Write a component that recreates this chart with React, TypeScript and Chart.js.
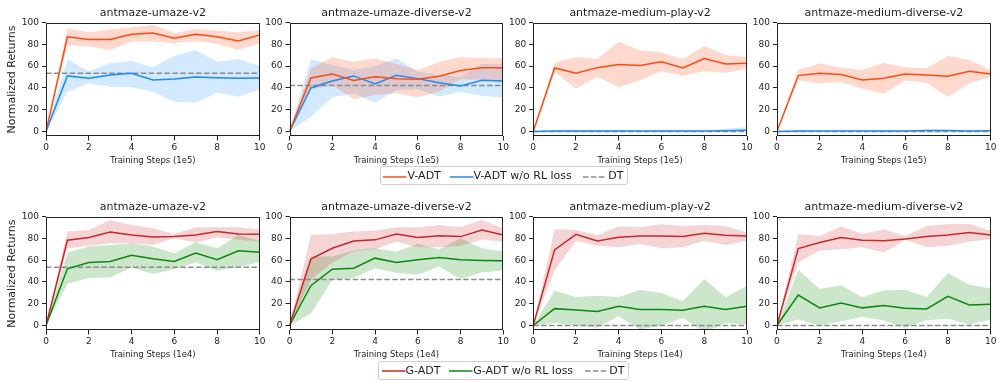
import React, { useEffect, useRef } from "react";
import { Chart, registerables } from "chart.js";

Chart.register(...registerables);

// ---------------- data ----------------
const steps = [0, 1, 2, 3, 4, 5, 6, 7, 8, 9, 10];
const xTicks = [0, 2, 4, 6, 8, 10];
const yTicks = [0, 20, 40, 60, 80, 100];

const envTitles = [
  "antmaze-umaze-v2",
  "antmaze-umaze-diverse-v2",
  "antmaze-medium-play-v2",
  "antmaze-medium-diverse-v2",
];
const dtScores = [53.5, 42.2, 0, 0];

// Row 1: V-ADT (x 1e5 steps)
const vUmaze = [0, 86.9, 84.4, 84.4, 89.3, 90.5, 85.6, 89.3, 86.9, 83.2, 88.7];
const vUmazeHi = [0, 94.8, 91.2, 93.6, 95.5, 97.9, 90.5, 94.2, 92.4, 91.2, 93];
const vUmazeLo = [0, 79.5, 78.3, 74.9, 82.6, 82.6, 81, 83.2, 80.7, 74.9, 81];
const vUmazeNoRl = [0, 51, 48.8, 51.9, 53.4, 47.3, 48.2, 50, 49.4, 48.8, 49.1];
const vUmazeNoRlHi = [0, 66.3, 55.3, 62.6, 64.8, 58.9, 69.4, 74.9, 64.1, 66.6, 60.2];
const vUmazeNoRlLo = [0, 36.2, 44.2, 41.1, 40.5, 36.5, 27.3, 26.4, 35.6, 31.9, 38.7];

const vUmazeDiv = [0, 49.1, 52.8, 46.7, 50.3, 48.5, 47.9, 50.6, 55.9, 58.6, 58.6];
const vUmazeDivHi = [0, 58, 68.1, 64.1, 66.9, 62, 56.5, 63.8, 68.1, 67.5, 67.2];
const vUmazeDivLo = [0, 38.7, 42.7, 29.5, 33.5, 35, 31.3, 36.5, 47.9, 47.3, 44.8];
const vUmazeDivNoRl = [0, 39.9, 46.3, 51, 43.6, 51.6, 48.5, 44.8, 41.7, 47, 46.3];
const vUmazeDivNoRlHi = [0, 66.3, 61.1, 56.5, 60.2, 66.9, 54.9, 51.9, 50.3, 62, 61.7];
const vUmazeDivNoRlLo = [0, 13.5, 31.3, 35, 26.4, 38.1, 38.7, 31.9, 36.5, 32.5, 31.3];

const vMedPlay = [0, 58.3, 53.4, 58.6, 61.4, 60.5, 64.1, 58.3, 66.9, 62, 62.6];
const vMedPlayHi = [0, 63.2, 68.1, 66.6, 82.3, 74.3, 72.7, 66.3, 78.6, 70.3, 68.1];
const vMedPlayLo = [0, 54.9, 39.3, 50.3, 40.5, 46.7, 55.6, 51, 55.3, 54, 57.4];
const vMedPlayNoRl = [0, 0.3, 0.3, 0.3, 0.3, 0.3, 0.3, 0.3, 0.3, 0.5, 1];
const vMedPlayNoRlHi = [0, 0.5, 0.5, 0.5, 0.5, 0.5, 0.5, 0.5, 0.7, 2.5, 3.8];
const vMedPlayNoRlLo = [0, 0, 0, 0, 0, 0, 0, 0, 0, 0, 0];

const vMedDiv = [0, 51.3, 53.4, 52.2, 47.3, 48.8, 52.8, 51.9, 50.6, 55.3, 52.8];
const vMedDivHi = [0, 56.5, 62.6, 58.6, 56.5, 63.2, 58.9, 58, 69.4, 65.7, 56.5];
const vMedDivLo = [0, 47.3, 44.2, 45.4, 39.3, 34.7, 46.7, 44.8, 31.9, 44.2, 50.3];
const vMedDivNoRl = [0, 0.3, 0.3, 0.3, 0.3, 0.3, 0.3, 0.8, 0.8, 0.3, 0.6];
const vMedDivNoRlHi = [0, 0.5, 0.5, 0.5, 0.5, 0.5, 0.8, 1.8, 1.8, 0.8, 1.2];
const vMedDivNoRlLo = [0, 0, 0, 0, 0, 0, 0, 0, 0, 0, 0];

// Row 2: G-ADT (x 1e4 steps)
const gUmaze = [0, 78.4, 80.8, 86, 83.2, 81.4, 81.7, 83.2, 86.3, 84.1, 83.8];
const gUmazeHi = [0, 86.3, 87.8, 97, 92.4, 89.3, 84.1, 90.2, 90.2, 90.2, 88.4];
const gUmazeLo = [0, 71, 73.2, 75.6, 75.6, 74.1, 80.2, 76.2, 81.1, 78.7, 77.1];
const gUmazeNoRl = [0, 52.1, 57.9, 58.8, 64.6, 61.3, 58.8, 66.5, 60.4, 68.6, 67.4];
const gUmazeNoRlHi = [0, 67.1, 72.6, 74.1, 75.6, 72.6, 66.5, 76.5, 71, 83.2, 77.7];
const gUmazeNoRlLo = [0, 38.4, 43.6, 44.2, 53.4, 47.3, 51.8, 57.9, 50.3, 53.7, 58.2];

const gUmazeDiv = [0, 61, 71, 77.7, 78.7, 84.1, 80.8, 82.6, 81.7, 87.8, 83.2];
const gUmazeDivHi = [0, 83.2, 84.1, 86.3, 87.2, 90.2, 90.2, 92.4, 90.2, 97, 89.3];
const gUmazeDivLo = [0, 42, 58, 68, 70, 77, 72, 72, 73, 79, 77];
const gUmazeDivNoRl = [0, 36.6, 51.8, 52.7, 61.9, 57.9, 60.4, 62.5, 60.4, 59.8, 59.5];
const gUmazeDivNoRlHi = [0, 63.4, 63.4, 68.9, 71, 68, 75, 70.1, 80.2, 71, 68];
const gUmazeDivNoRlLo = [0, 10.7, 42, 43.6, 52.7, 48.2, 46.6, 54.3, 42.7, 48.8, 50.6];

const gMedPlay = [0, 69.5, 83.8, 77.7, 81.1, 82.3, 82.3, 81.7, 84.8, 82.9, 82.3];
const gMedPlayHi = [0, 88.4, 87.8, 83.2, 90.9, 90.2, 93, 91.5, 92.4, 91.5, 85.4];
const gMedPlayLo = [0, 50.6, 78, 73.2, 72, 75, 71, 72, 78, 74.1, 78];
const gMedPlayNoRl = [0, 15.5, 14.3, 12.8, 17.7, 14.6, 14.6, 14, 17.7, 14.6, 17.7];
const gMedPlayNoRlHi = [0, 32, 26.2, 27.4, 26.2, 32.9, 29.9, 22.3, 42.7, 25.9, 36.6];
const gMedPlayNoRlLo = [0, 2.4, 0, -2.1, 8.5, -3.7, 0, 7, -6, 2.4, 0.9];

const gMedDiv = [0, 70.7, 76.2, 80.8, 78.4, 78, 79.6, 81.7, 83.2, 85.4, 83.2];
const gMedDivHi = [0, 84.1, 82.3, 90.9, 84.1, 88.4, 82.3, 91.5, 93.3, 93.3, 87.2];
const gMedDivLo = [0, 57.9, 68.9, 70.1, 72, 67.1, 78.7, 72, 73.2, 77.1, 79.3];
const gMedDivNoRl = [0, 28, 16.2, 20.7, 16.2, 18.3, 15.9, 15.2, 26.8, 18.9, 19.5];
const gMedDivNoRlHi = [0, 51.2, 33.5, 36.9, 25.9, 32.3, 32.9, 26.2, 48.2, 37.5, 34.1];
const gMedDivNoRlLo = [0, 5.5, 0, 4, 7.9, 4.6, -2, 4.9, 6.1, 1, 5.5];

const rowXLabels = ["Training Steps (1e5)", "Training Steps (1e4)"];
const rowSeriesNames = [
  ["V-ADT", "V-ADT w/o RL loss", "DT"],
  ["G-ADT", "G-ADT w/o RL loss", "DT"],
];
const yLabel = "Normalized Returns";

// ---------------- styles / layout ----------------
const FONT = "'DejaVu Sans', sans-serif";
const TEXT = "#1e1e1e";
const rowColors = [
  { main: "#ff4a12", mainFill: "rgba(255,80,30,0.22)", abl: "#1f8cf5", ablFill: "rgba(30,144,255,0.2)" },
  { main: "#cc2729", mainFill: "rgba(200,40,40,0.2)", abl: "#0b880b", ablFill: "rgba(0,128,0,0.2)" },
];
const DT_COLOR = "#8c8c8c";

const COL_LEFT = [46, 289.5, 533.2, 776.9];
const ROW_TOP = [22.6, 216.7];
const PLOT_W = 213.8;
const PLOT_H = 113.8;
const Y_AXIS_W = 46;
const X_AXIS_H = 36;
const TITLE_H = 16.2;
const PAD_R = 8;
const Y_MIN = -4.6;

type Series = number[];
type PanelSpec = {
  row: number;
  col: number;
  main: Series; mainHi: Series; mainLo: Series;
  abl: Series; ablHi: Series; ablLo: Series;
};

const panels: PanelSpec[] = [
  { row: 0, col: 0, main: vUmaze, mainHi: vUmazeHi, mainLo: vUmazeLo, abl: vUmazeNoRl, ablHi: vUmazeNoRlHi, ablLo: vUmazeNoRlLo },
  { row: 0, col: 1, main: vUmazeDiv, mainHi: vUmazeDivHi, mainLo: vUmazeDivLo, abl: vUmazeDivNoRl, ablHi: vUmazeDivNoRlHi, ablLo: vUmazeDivNoRlLo },
  { row: 0, col: 2, main: vMedPlay, mainHi: vMedPlayHi, mainLo: vMedPlayLo, abl: vMedPlayNoRl, ablHi: vMedPlayNoRlHi, ablLo: vMedPlayNoRlLo },
  { row: 0, col: 3, main: vMedDiv, mainHi: vMedDivHi, mainLo: vMedDivLo, abl: vMedDivNoRl, ablHi: vMedDivNoRlHi, ablLo: vMedDivNoRlLo },
  { row: 1, col: 0, main: gUmaze, mainHi: gUmazeHi, mainLo: gUmazeLo, abl: gUmazeNoRl, ablHi: gUmazeNoRlHi, ablLo: gUmazeNoRlLo },
  { row: 1, col: 1, main: gUmazeDiv, mainHi: gUmazeDivHi, mainLo: gUmazeDivLo, abl: gUmazeDivNoRl, ablHi: gUmazeDivNoRlHi, ablLo: gUmazeDivNoRlLo },
  { row: 1, col: 2, main: gMedPlay, mainHi: gMedPlayHi, mainLo: gMedPlayLo, abl: gMedPlayNoRl, ablHi: gMedPlayNoRlHi, ablLo: gMedPlayNoRlLo },
  { row: 1, col: 3, main: gMedDiv, mainHi: gMedDivHi, mainLo: gMedDivLo, abl: gMedDivNoRl, ablHi: gMedDivNoRlHi, ablLo: gMedDivNoRlLo },
];

const toPts = (ys: Series) => steps.map((x, i) => ({ x, y: ys[i] }));

const framePlugin = {
  id: "frame",
  afterDraw(chart: any) {
    const { ctx, chartArea: a } = chart;
    ctx.save();
    ctx.strokeStyle = "#222";
    ctx.lineWidth = 1;
    const l = Math.round(a.left) + 0.5;
    const t = Math.round(a.top) + 0.5;
    const r = Math.round(a.right) - 0.5;
    const b = Math.round(a.bottom) - 0.5;
    ctx.strokeRect(l, t, r - l, b - t);
    ctx.restore();
  },
};

function Panel({ spec }: { spec: PanelSpec }) {
  const ref = useRef<HTMLCanvasElement | null>(null);
  const L = COL_LEFT[spec.col];
  const T = ROW_TOP[spec.row];
  const cLeft = Math.floor(L - Y_AXIS_W);
  const yAxisW = L - cLeft;
  const cWidth = Math.ceil(yAxisW + PLOT_W + PAD_R);
  const padRight = cWidth - yAxisW - PLOT_W;
  const cTop = Math.floor(T - TITLE_H - 4);
  const padTop = T - TITLE_H - cTop;
  const cHeight = Math.ceil(padTop + TITLE_H + PLOT_H + X_AXIS_H);
  const padBottom = cHeight - padTop - TITLE_H - PLOT_H - X_AXIS_H;

  useEffect(() => {
    const colors = rowColors[spec.row];
    const names = rowSeriesNames[spec.row];
    const dt = dtScores[spec.col];
    const chart = new Chart(ref.current as HTMLCanvasElement, {
      type: "line",
      data: {
        datasets: [
          { label: names[0], data: toPts(spec.main), borderColor: colors.main, borderWidth: 1.5, pointRadius: 0, fill: false, tension: 0 },
          { label: names[1], data: toPts(spec.abl), borderColor: colors.abl, borderWidth: 1.5, pointRadius: 0, fill: false, tension: 0 },
          { label: names[2], data: [{ x: steps[0], y: dt }, { x: steps[steps.length - 1], y: dt }], borderColor: DT_COLOR, borderWidth: 1.5, borderDash: [5.5, 2.4], pointRadius: 0, fill: false },
          { label: "lo1", data: toPts(spec.mainLo), borderColor: "rgba(0,0,0,0)", borderWidth: 0, pointRadius: 0, fill: false },
          { label: "hi1", data: toPts(spec.mainHi), borderColor: "rgba(0,0,0,0)", borderWidth: 0, pointRadius: 0, fill: "-1", backgroundColor: colors.mainFill },
          { label: "lo2", data: toPts(spec.ablLo), borderColor: "rgba(0,0,0,0)", borderWidth: 0, pointRadius: 0, fill: false },
          { label: "hi2", data: toPts(spec.ablHi), borderColor: "rgba(0,0,0,0)", borderWidth: 0, pointRadius: 0, fill: "-1", backgroundColor: colors.ablFill },
        ],
      },
      options: {
        animation: false,
        responsive: false,
        events: [],
        layout: { padding: { left: 0, right: padRight, top: padTop, bottom: padBottom } },
        plugins: {
          legend: { display: false },
          tooltip: { enabled: false },
          title: {
            display: true,
            text: envTitles[spec.col],
            fullSize: false,
            color: TEXT,
            font: { family: FONT, size: 11, weight: "normal" },
            padding: { top: 0, bottom: 3 },
          },
        },
        scales: {
          x: {
            type: "linear",
            min: 0,
            max: 10,
            afterFit: (s: any) => { s.height = X_AXIS_H; },
            afterBuildTicks: (s: any) => { s.ticks = xTicks.map((v) => ({ value: v })); },
            ticks: { color: TEXT, font: { family: FONT, size: 9 }, padding: 2, maxRotation: 0, autoSkip: false },
            grid: { display: true, drawOnChartArea: false, drawTicks: true, tickLength: 4, color: "#222", tickColor: "#222" },
            border: { display: false },
            title: { display: true, text: rowXLabels[spec.row], color: TEXT, font: { family: FONT, size: 8.5 }, padding: { top: 0, bottom: 6.9 } },
          },
          y: {
            type: "linear",
            min: Y_MIN,
            max: 100,
            afterFit: (s: any) => { s.width = yAxisW; },
            afterBuildTicks: (s: any) => { s.ticks = yTicks.map((v) => ({ value: v })); },
            ticks: { color: TEXT, font: { family: FONT, size: 9 }, padding: 3, autoSkip: false },
            grid: { display: true, drawOnChartArea: false, drawTicks: true, tickLength: 4, color: "#222", tickColor: "#222" },
            border: { display: false },
            title: { display: spec.col === 0, text: yLabel, color: TEXT, font: { family: FONT, size: 11 }, padding: { top: 5.7, bottom: 0 } },
          },
        },
      },
      plugins: [framePlugin],
    } as any);
    return () => chart.destroy();
  }, []);

  return (
    <canvas
      ref={ref}
      width={cWidth}
      height={cHeight}
      style={{ position: "absolute", left: cLeft, top: cTop, width: cWidth, height: cHeight }}
    />
  );
}

type LegendItem = { label: string; color: string; dashed: boolean; lineX: number; textX: number };

function Legend({ left, top, width, height, items }: { left: number; top: number; width: number; height: number; items: LegendItem[] }) {
  return (
    <div
      style={{
        position: "absolute",
        left,
        top,
        width,
        height,
        boxSizing: "border-box",
        border: "1px solid #d0d0d0",
        borderRadius: 3,
        background: "#fff",
        fontFamily: FONT,
        fontSize: 11,
        color: TEXT,
      }}
    >
      {items.map((it, i) => (
        <React.Fragment key={i}>
          <svg style={{ position: "absolute", left: it.lineX - left - 1, top: height / 2 - 3, overflow: "visible" }} width={24} height={6}>
            <line x1={0} y1={3} x2={23.5} y2={3} stroke={it.color} strokeWidth={1.5} strokeDasharray={it.dashed ? "5.5,2.4" : undefined} />
          </svg>
          <span style={{ position: "absolute", left: it.textX - left - 1, top: 0, lineHeight: `${height - 2}px`, whiteSpace: "nowrap" }}>{it.label}</span>
        </React.Fragment>
      ))}
    </div>
  );
}

const legendLineX = [
  [383, 450, 583],
  [381.7, 449.3, 585],
];
const legendTextX = [
  [407.5, 473.5, 608.3],
  [405.5, 473.2, 609.3],
];
const legendBoxes = [
  { left: 380, top: 166.3, width: 248, height: 19.2 },
  { left: 377.7, top: 360.8, width: 251.5, height: 19.2 },
];

export default function App() {
  return (
    <div style={{ position: "absolute", left: 0, top: 0, width: 997, height: 381, background: "#fff", overflow: "hidden" }}>
      {panels.map((p, i) => (
        <Panel key={i} spec={p} />
      ))}
      {[0, 1].map((r) => (
        <Legend
          key={r}
          {...legendBoxes[r]}
          items={rowSeriesNames[r].map((label, k) => ({
            label,
            color: k === 0 ? rowColors[r].main : k === 1 ? rowColors[r].abl : DT_COLOR,
            dashed: k === 2,
            lineX: legendLineX[r][k],
            textX: legendTextX[r][k],
          }))}
        />
      ))}
    </div>
  );
}
